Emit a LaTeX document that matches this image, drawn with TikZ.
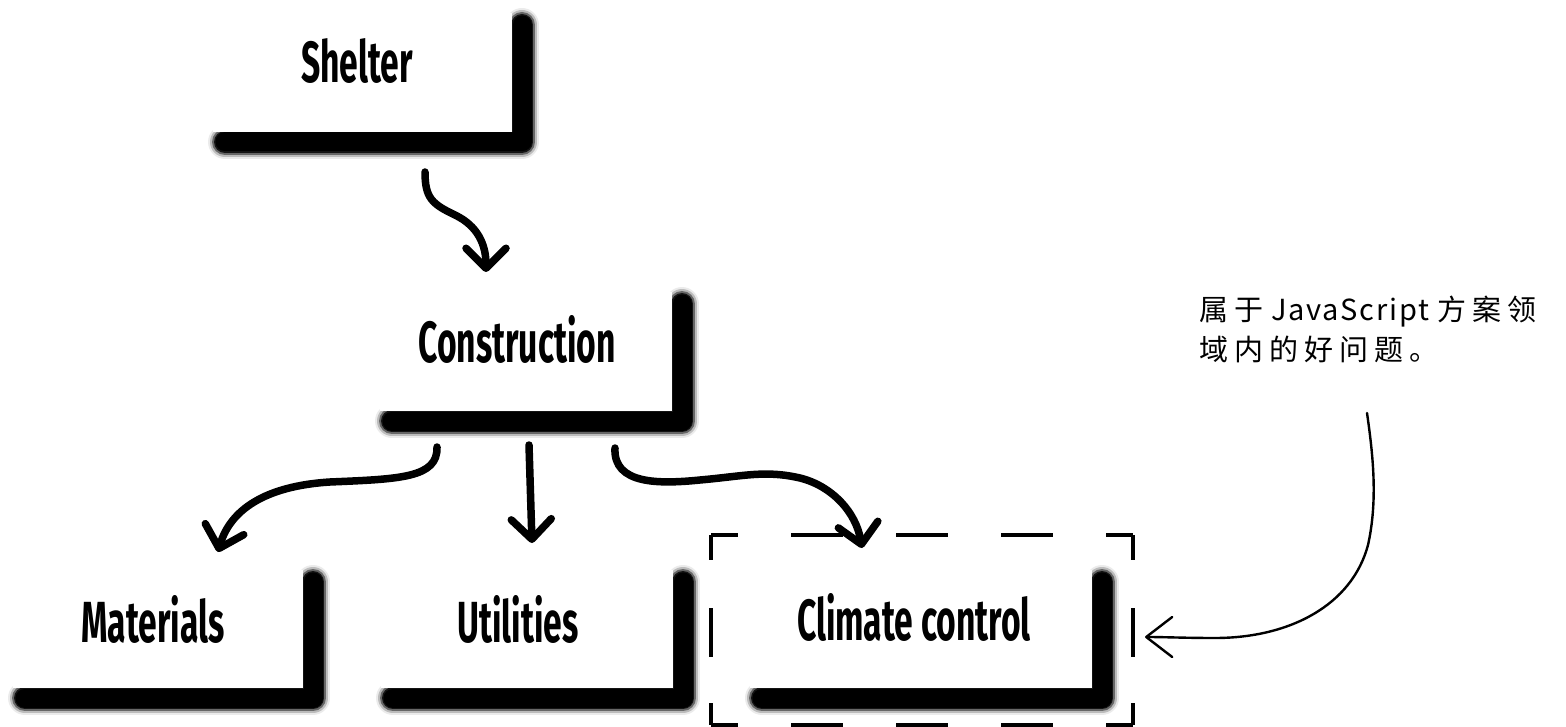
\documentclass[tikz,border=0pt]{standalone}
\usepackage{fontspec}
\usetikzlibrary{arrows.meta,calc,backgrounds}
\newfontfamily\boxfont{Fira Sans}[FakeStretch=0.58]
\newfontfamily\notecjk{Noto Sans CJK SC}[LetterSpace=21]
\newfontfamily\notelat{Noto Sans CJK SC}[LetterSpace=6]

% blurred drop shadow along the right and bottom edge of a box node
\newcommand\boxshadow[1]{%
  \foreach \w/\o in {34/0.08,30/0.2,26/0.45,22/0.8,19/1}{%
    \draw[line width=\w pt, draw opacity=\o, line cap=round, line join=round]
      ($(#1.north east)+(10,12)$) -- ($(#1.south east)+(10,10)$)
      -- ($(#1.south west)+(12,10)$);
  }%
}

\begin{document}
\begin{tikzpicture}[x=1pt,y=-1pt,
  box/.style={rectangle, fill=white, inner sep=0pt, outer sep=0pt},
  lbl/.style={inner sep=0pt, anchor=base, font=\boxfont\bfseries\fontsize{58}{60}\selectfont},
  conn/.style={line width=7.5pt, line cap=round,
    -{Straight Barb[length=20pt,width=40pt,round]}},
  notearrow/.style={line width=2.4pt, line cap=round,
    -{Straight Barb[length=26pt,width=40pt,round]}},
  framedash/.style={line width=3.5pt}]
\useasboundingbox (0,0) rectangle (1566,727);

% boxes
\node[box, minimum width=299pt, minimum height=119pt] (shelter) at (362.5,72.5) {};
\node[box, minimum width=292pt, minimum height=119pt] (construction) at (526,351.5) {};
\node[box, minimum width=290pt, minimum height=118pt] (materials) at (158,629) {};
\node[box, minimum width=292pt, minimum height=118pt] (utilities) at (527,629) {};
\node[box, minimum width=342pt, minimum height=118pt] (climate) at (921,629) {};

% box captions
\node[lbl] (shelter-t) at (357,83) {Shelter};
\node[lbl] (construction-t) at (517,362) {Construction};
\node[lbl] (materials-t) at (153,642) {Materials};
\node[lbl] (utilities-t) at (518,642) {Utilities};
\node[lbl] (climate-t) at (914,640) {Climate control};

\begin{pgfonlayer}{background}
  \fill[white] (0,0) rectangle (1566,727);
  \boxshadow{shelter}
  \boxshadow{construction}
  \boxshadow{materials}
  \boxshadow{utilities}
  \boxshadow{climate}
\end{pgfonlayer}

% hierarchy arrows
\draw[conn] ($(shelter.south west)+(212,40)$)
  .. controls (425,198) and (432,204) .. (455,215)
  .. controls (478,226) and (486,245) .. ($(construction.north west)+(106,-20)$);
\draw[conn] ($(construction.south west)+(57,36)$)
  .. controls (438,478) and (400,479) .. (330,482)
  .. controls (265,486) and (230,510) .. ($(materials.north west)+(205,-18)$);
\draw[conn] ($(construction.south west)+(149,34)$) -- ($(utilities.north west)+(151,-27)$);
\draw[conn] ($(construction.south west)+(235,37)$)
  .. controls (613,485) and (660,484) .. (700,480)
  .. controls (745,476) and (765,470) .. (800,478)
  .. controls (832,486) and (856,512) .. ($(climate.north west)+(112,-22)$);

% dashed frame around the climate control box
\node[inner sep=0pt, outer sep=0pt, minimum width=422pt, minimum height=190pt] (frame) at (922,630) {};
\draw[framedash, dash pattern=on 27pt off 53pt on 52pt off 53pt on 52pt off 53pt on 52pt off 53pt on 27pt]
  (frame.north west) -- (frame.north east);
\draw[framedash, dash pattern=on 27pt off 53pt on 52pt off 53pt on 52pt off 53pt on 52pt off 53pt on 27pt]
  (frame.south west) -- (frame.south east);
\draw[framedash, dash pattern=on 25pt off 48pt on 49pt off 46pt on 22pt]
  (frame.north west) -- (frame.south west);
\draw[framedash, dash pattern=on 25pt off 48pt on 49pt off 46pt on 22pt]
  (frame.north east) -- (frame.south east);

% handwritten note
\node[anchor=north west, align=left, inner sep=0pt, font=\fontsize{29}{40}\selectfont] (note) at (1199,296)
  {{\notecjk 属于}\hspace{8pt}{\notelat JavaScript}\hspace{8pt}{\notecjk 方案领}\\
   {\notecjk 域内的好问题。}};
\coordinate (notefoot) at (1367,413);
\draw[notearrow] (notefoot)
  .. controls (1373,455) and (1378,500) .. (1368,545)
  .. controls (1352,605) and (1290,638) .. (1215,638)
  .. controls (1185,638) and (1165,637) .. ($(frame.east)+(12,7)$);
\end{tikzpicture}
\end{document}
